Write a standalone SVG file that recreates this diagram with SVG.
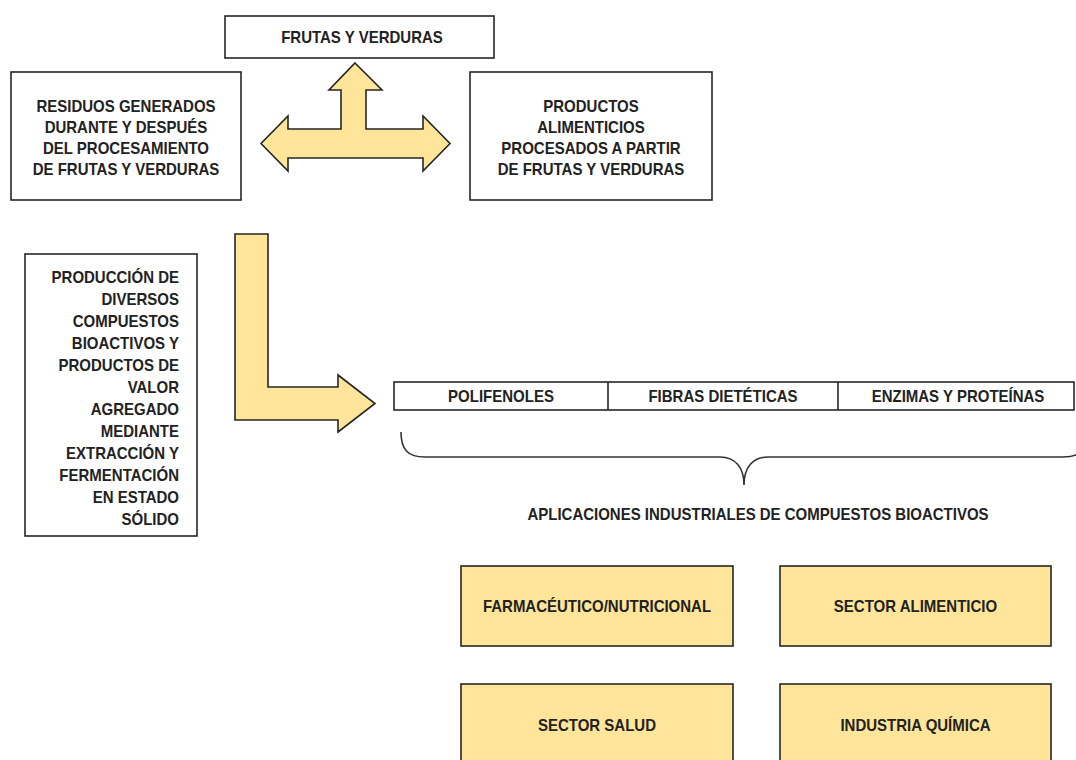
<svg xmlns="http://www.w3.org/2000/svg" width="1076" height="760" viewBox="0 0 1076 760">
<style>
.box{fill:#ffffff;stroke:#262626;stroke-width:1.6}
.ybox{fill:#ffe599;stroke:#262626;stroke-width:1.6}
.arrow{fill:#ffe599;stroke:#262626;stroke-width:1.6;stroke-linejoin:miter}
.brace{fill:none;stroke:#333333;stroke-width:1.6}
text{font-family:"Liberation Sans",Arial,sans-serif;font-weight:bold;font-size:16px;fill:#222222}
.c{text-anchor:middle}
.e{text-anchor:end}
</style>
<rect width="1076" height="760" fill="#ffffff"/>

<g id="frutas">
<rect class="box" x="225" y="16" width="269" height="42"/>
<text class="c" transform="matrix(0.9375 0 0 1 362 43)">FRUTAS Y VERDURAS</text>
</g>

<g id="residuos">
<rect class="box" x="11" y="72" width="230" height="128"/>
<text class="c" transform="matrix(0.9375 0 0 1 126 112)">RESIDUOS GENERADOS</text>
<text class="c" transform="matrix(0.9375 0 0 1 126 133)">DURANTE Y DESPUÉS</text>
<text class="c" transform="matrix(0.9375 0 0 1 126 154)">DEL PROCESAMIENTO</text>
<text class="c" transform="matrix(0.9375 0 0 1 126 175)">DE FRUTAS Y VERDURAS</text>
</g>

<g id="productos">
<rect class="box" x="470" y="72" width="242" height="128"/>
<text class="c" transform="matrix(0.9375 0 0 1 591 112)">PRODUCTOS</text>
<text class="c" transform="matrix(0.9375 0 0 1 591 133)">ALIMENTICIOS</text>
<text class="c" transform="matrix(0.9375 0 0 1 591 154)">PROCESADOS A PARTIR</text>
<text class="c" transform="matrix(0.9375 0 0 1 591 175)">DE FRUTAS Y VERDURAS</text>
</g>

<g id="produccion">
<rect class="box" x="25" y="254" width="172" height="282"/>
<text class="e" transform="matrix(0.9375 0 0 1 179 283)">PRODUCCIÓN DE</text>
<text class="e" transform="matrix(0.9375 0 0 1 179 305)">DIVERSOS</text>
<text class="e" transform="matrix(0.9375 0 0 1 179 327)">COMPUESTOS</text>
<text class="e" transform="matrix(0.9375 0 0 1 179 349)">BIOACTIVOS Y</text>
<text class="e" transform="matrix(0.9375 0 0 1 179 371)">PRODUCTOS DE</text>
<text class="e" transform="matrix(0.9375 0 0 1 179 393)">VALOR</text>
<text class="e" transform="matrix(0.9375 0 0 1 179 415)">AGREGADO</text>
<text class="e" transform="matrix(0.9375 0 0 1 179 437)">MEDIANTE</text>
<text class="e" transform="matrix(0.9375 0 0 1 179 459)">EXTRACCIÓN Y</text>
<text class="e" transform="matrix(0.9375 0 0 1 179 481)">FERMENTACIÓN</text>
<text class="e" transform="matrix(0.9375 0 0 1 179 503)">EN ESTADO</text>
<text class="e" transform="matrix(0.9375 0 0 1 179 525)">SÓLIDO</text>
</g>

<g id="compuestos">
<rect class="box" x="394" y="382" width="680" height="28"/>
<line x1="608" y1="382" x2="608" y2="410" stroke="#262626" stroke-width="1.6"/>
<line x1="838" y1="382" x2="838" y2="410" stroke="#262626" stroke-width="1.6"/>
<text class="c" transform="matrix(0.9375 0 0 1 501 402)">POLIFENOLES</text>
<text class="c" transform="matrix(0.9375 0 0 1 723 402)">FIBRAS DIETÉTICAS</text>
<text class="c" transform="matrix(0.9375 0 0 1 958 402)">ENZIMAS Y PROTEÍNAS</text>
</g>

<g id="aplicaciones">
<text class="c" transform="matrix(0.9375 0 0 1 758 520)">APLICACIONES INDUSTRIALES DE COMPUESTOS BIOACTIVOS</text>
</g>

<g id="farmaceutico">
<rect class="ybox" x="461" y="566" width="272" height="80"/>
<text class="c" transform="matrix(0.9375 0 0 1 597 612)">FARMACÉUTICO/NUTRICIONAL</text>
</g>
<g id="alimenticio">
<rect class="ybox" x="780" y="566" width="271" height="80"/>
<text class="c" transform="matrix(0.9375 0 0 1 915.5 612)">SECTOR ALIMENTICIO</text>
</g>
<g id="salud">
<rect class="ybox" x="461" y="684" width="272" height="82"/>
<text class="c" transform="matrix(0.9375 0 0 1 597 731)">SECTOR SALUD</text>
</g>
<g id="quimica">
<rect class="ybox" x="780" y="684" width="271" height="82"/>
<text class="c" transform="matrix(0.9375 0 0 1 915.5 731)">INDUSTRIA QUÍMICA</text>
</g>

<g id="connectors">
<polygon class="arrow" points="355,63 382,90 366,90 366,129 423,129 423,116 450,143.5 423,171 423,158 288,158 288,171 261,143.5 288,116 288,129 341,129 341,90 329,90"/>
<polygon class="arrow" points="235,234 268,234 268,387 338,387 338,375 375,403.5 338,432 338,420 235,420"/>
<path class="brace" d="M401,432 C401,450 408,457 425,457 L720,457 C735,457 744,467 744,485 C744,467 753,457 768,457 L1063,457 C1080,457 1087,450 1087,432"/>
</g>
</svg>
